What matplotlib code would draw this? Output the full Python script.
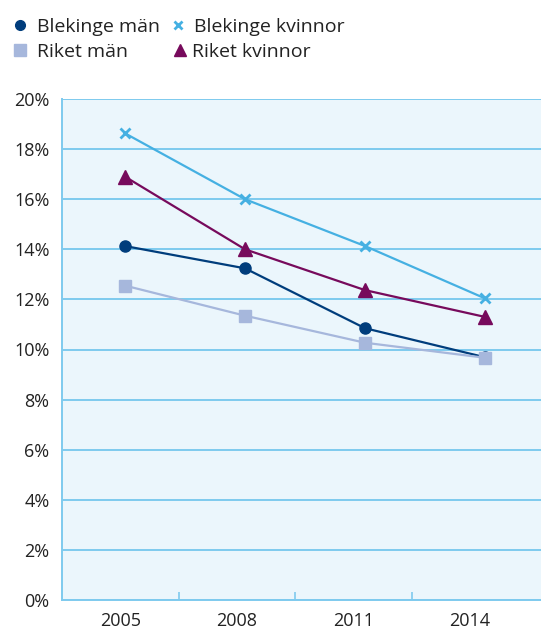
import matplotlib
matplotlib.use("Agg")
import matplotlib.pyplot as plt
from matplotlib.lines import Line2D

plt.rcParams['font.family'] = ['Open Sans', 'DejaVu Sans']

years = [2005, 2008, 2011, 2014]
year_labels = ["2005", "2008", "2011", "2014"]
blekinge_man = [14.13, 13.24, 10.85, 9.69]
blekinge_kvinnor = [18.63, 16.0, 14.13, 12.04]
riket_man = [12.55, 11.35, 10.27, 9.67]
riket_kvinnor = [16.9, 14.0, 12.37, 11.3]
y_ticks = [0, 2, 4, 6, 8, 10, 12, 14, 16, 18, 20]

c_bm = "#003d7c"
c_bk = "#45b0e2"
c_rm = "#a6b7dc"
c_rk = "#770a5c"
grid_c = "#7ecaee"
bg_c = "#ebf6fc"
text_c = "#222222"

W, H = 541, 630
fig = plt.figure(figsize=(W / 100, H / 100), dpi=100)
ax = fig.add_axes([62 / W, 30 / H, (W - 62) / W, 501 / H])
ax.set_facecolor(bg_c)

# category axis: labels centred in bins, bin dividers as small ticks
ax.set_xlim(-0.5, -0.5 + (W - 62) / 116.5)
ax.set_xticks(range(len(year_labels)))
ax.set_xticklabels(year_labels, fontsize=13, color=text_c)
ax.set_xticks([0.5, 1.5, 2.5], minor=True)
ax.tick_params(axis='x', which='major', length=0, pad=9)
ax.tick_params(axis='x', which='minor', direction='in', length=6, width=1.2, color=grid_c)

ax.set_ylim(0, 20)
ax.set_yticks(y_ticks)
ax.set_yticklabels([f"{v}%" for v in y_ticks], fontsize=13, color=text_c)
ax.tick_params(axis='y', length=0, pad=9)
ax.yaxis.grid(True, color=grid_c, linewidth=1.4)
ax.set_axisbelow(True)

for side in ['top', 'right']:
    ax.spines[side].set_visible(False)
for side in ['left', 'bottom']:
    ax.spines[side].set_color(grid_c)
    ax.spines[side].set_linewidth(1.4)

# series drawn on a year-scaled axis sharing the same frame
ax2 = ax.twiny()
ax2.set_xlim(2003.425, 2003.425 + (W - 62) / 40)
ax2.set_ylim(0, 20)
ax2.axis('off')

ax2.plot(years, blekinge_man, color=c_bm, lw=1.6, marker='o', ms=8, clip_on=False)
ax2.plot(years, riket_man, color=c_rm, lw=1.6, marker='s', ms=8, mec=c_rm, clip_on=False)
ax2.plot(years, riket_kvinnor, color=c_rk, lw=1.6, marker='^', ms=9.5, clip_on=False)
ax2.plot(years, blekinge_kvinnor, color=c_bk, lw=1.6, marker='x', ms=7, mew=2, clip_on=False)

# legend: two rows, two columns of marker + label
legend_items = [
    ("Blekinge män", dict(marker='o', ms=7, color=c_bm), 20, 25, 37),
    ("Blekinge kvinnor", dict(marker='x', ms=6, mew=2, color=c_bk), 178, 25, 194),
    ("Riket män", dict(marker='s', ms=8, color=c_rm), 20, 50, 37),
    ("Riket kvinnor", dict(marker='^', ms=9, color=c_rk), 180, 50, 192),
]
for label, style, mx, my, tx in legend_items:
    fig.add_artist(Line2D([mx / W], [1 - my / H], ls='none',
                          transform=fig.transFigure, **style))
    fig.text(tx / W, 1 - my / H, label, fontsize=14, color=text_c,
             ha='left', va='center_baseline')

fig.savefig("out.png", dpi=100)
